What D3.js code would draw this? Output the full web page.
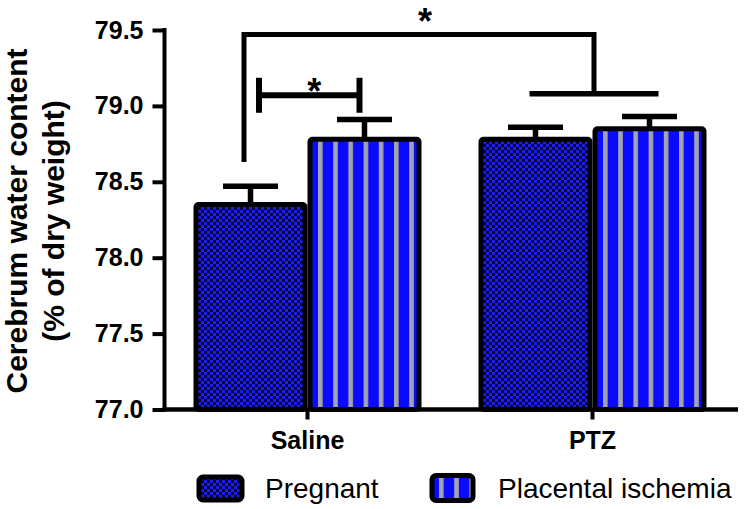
<!DOCTYPE html>
<html>
<head>
<meta charset="utf-8">
<script src="https://cdn.jsdelivr.net/npm/d3@7"></script>
<style>
  html, body { margin: 0; padding: 0; background: #fff; }
  svg { display: block; }
  text { font-family: "Liberation Sans", Arial, Helvetica, sans-serif; }
</style>
</head>
<body>
<svg id="chart" width="746" height="509"></svg>
<script>
// ---- data ----
const categories = ["Saline", "PTZ"];
const seriesNames = ["Pregnant", "Placental ischemia"];
const pregnantMeans = [78.35, 78.78];
const pregnantSEM = [0.12, 0.08];
const ischemiaMeans = [78.78, 78.85];
const ischemiaSEM = [0.13, 0.08];
const yTicks = [77.0, 77.5, 78.0, 78.5, 79.0, 79.5];
const yLabelLines = ["Cerebrum water content", "(% of dry weight)"];
// significance: within-Saline comparison level and between-group level (data units)
const sigWithin = { category: "Saline", level: 79.07, label: "*" };
const sigBetween = { from: "Saline", to: "PTZ", level: 79.47, legBottom: 78.63, lowerLevel: 79.08, label: "*" };

const svg = d3.select("#chart");
const defs = svg.append("defs");

const y = d3.scaleLinear().domain([77.0, 79.5]).range([409.5, 30]);
const x0 = d3.scaleBand().domain(categories).range([165, 735]).paddingInner(0.2).paddingOuter(0.1);
const x1 = d3.scaleBand().domain(seriesNames).range([0, x0.bandwidth()]).padding(0);

const rows = [];
categories.forEach((c, i) => {
  rows.push({ cat: c, s: seriesNames[0], mean: pregnantMeans[i], sem: pregnantSEM[i] });
  rows.push({ cat: c, s: seriesNames[1], mean: ischemiaMeans[i], sem: ischemiaSEM[i] });
});

const SW = 5; // bar stroke width

// checker pattern (Pregnant)
const chk = defs.append("pattern").attr("id", "checker").attr("patternUnits", "userSpaceOnUse")
  .attr("width", 6).attr("height", 6);
chk.append("rect").attr("width", 6).attr("height", 6).attr("fill", "#06063e");
chk.append("rect").attr("width", 3).attr("height", 3).attr("fill", "#1c1cf4");
chk.append("rect").attr("x", 3).attr("y", 3).attr("width", 3).attr("height", 3).attr("fill", "#1c1cf4");

function stripePattern(id, x0pos) {
  const p = defs.append("pattern").attr("id", id).attr("patternUnits", "userSpaceOnUse")
    .attr("x", x0pos).attr("y", 0).attr("width", 15.2).attr("height", 10);
  p.append("rect").attr("width", 15.2).attr("height", 10).attr("fill", "#0a0aff");
  p.append("rect").attr("width", 4.6).attr("height", 10).attr("fill", "#a3a3ad");
}

// bars
rows.forEach((d, i) => {
  const bx = x0(d.cat) + x1(d.s) + SW / 2;
  const bw = x1.bandwidth() - SW;
  let fill = "url(#checker)";
  if (d.s === seriesNames[1]) {
    const id = "stripe" + i;
    stripePattern(id, bx + SW / 2 + 5.5);
    fill = `url(#${id})`;
  }
  // error bar (upper only)
  const cx = bx + bw / 2;
  const capW = 55;
  svg.append("line").attr("x1", cx).attr("x2", cx).attr("y1", y(d.mean)).attr("y2", y(d.mean + d.sem))
    .attr("stroke", "#000").attr("stroke-width", 5.5);
  svg.append("line").attr("x1", cx - capW / 2).attr("x2", cx + capW / 2)
    .attr("y1", y(d.mean + d.sem)).attr("y2", y(d.mean + d.sem))
    .attr("stroke", "#000").attr("stroke-width", 5.5);
  svg.append("rect").attr("x", bx).attr("y", y(d.mean)).attr("width", bw)
    .attr("height", y(77.0) - y(d.mean)).attr("rx", 2.5)
    .attr("fill", fill).attr("stroke", "#000").attr("stroke-width", SW);
});

function barCenter(cat, s) { return x0(cat) + x1(s) + x1.bandwidth() / 2; }

// y axis
const yAxis = d3.axisLeft(y).tickValues(yTicks).tickFormat(d3.format(".1f")).tickSize(12).tickPadding(9);
const gy = svg.append("g").attr("transform", "translate(164.5,0)").call(yAxis);
gy.select(".domain").remove();
gy.selectAll(".tick line").attr("stroke", "#000").attr("stroke-width", 4);
gy.selectAll(".tick text").attr("font-size", 25).attr("font-weight", "bold").attr("fill", "#000")
  .attr("font-family", '"Liberation Sans", Arial, sans-serif');
svg.append("line").attr("x1", 164.5).attr("x2", 164.5).attr("y1", y(79.5) - 2).attr("y2", y(77.0) + 2)
  .attr("stroke", "#000").attr("stroke-width", 4);

// x axis
const xAxis = d3.axisBottom(x0).tickSize(10).tickPadding(12);
const gx = svg.append("g").attr("transform", `translate(0,${y(77.0)})`).call(xAxis);
gx.select(".domain").remove();
gx.selectAll(".tick line").attr("stroke", "#000").attr("stroke-width", 4);
gx.selectAll(".tick text").attr("font-size", 25).attr("font-weight", "bold").attr("fill", "#000")
  .attr("font-family", '"Liberation Sans", Arial, sans-serif');
svg.append("line").attr("x1", 162.5).attr("x2", 738).attr("y1", y(77.0)).attr("y2", y(77.0))
  .attr("stroke", "#000").attr("stroke-width", 4.5);

// y label
const yl = svg.append("text").attr("transform", `translate(0,221) rotate(-90)`)
  .attr("text-anchor", "middle").attr("font-size", 30).attr("font-weight", "bold").attr("fill", "#000");
yl.append("tspan").attr("x", 0).attr("y", 27).text(yLabelLines[0]);
yl.append("tspan").attr("x", 0).attr("y", 64).text(yLabelLines[1]);

// significance: within Saline
{
  const xa = barCenter(sigWithin.category, seriesNames[0]) + 8.5;
  const xb = barCenter(sigWithin.category, seriesNames[1]) - 5;
  const ly = y(sigWithin.level);
  const g = svg.append("g").attr("stroke", "#000").attr("stroke-width", 6);
  g.append("line").attr("x1", xa).attr("x2", xb).attr("y1", ly).attr("y2", ly);
  g.append("line").attr("x1", xa).attr("x2", xa).attr("y1", ly - 17.5).attr("y2", ly + 17.5);
  g.append("line").attr("x1", xb).attr("x2", xb).attr("y1", ly - 17.5).attr("y2", ly + 17.5);
  svg.append("text").attr("x", (xa + xb) / 2 + 5).attr("y", ly + 9).attr("text-anchor", "middle")
    .attr("font-size", 36).attr("font-weight", "bold").text(sigWithin.label);
}
// significance: between groups
{
  const xl = barCenter(sigBetween.from, seriesNames[0]) - 6.5;
  const xr = x0(sigBetween.to) + x0.bandwidth() / 2 + 1.5;
  const top = y(sigBetween.level);
  const low = y(sigBetween.lowerLevel);
  const g = svg.append("g").attr("stroke", "#000").attr("stroke-width", 5).attr("fill", "none");
  g.append("path").attr("d", `M${xl},${y(sigBetween.legBottom)} V${top} H${xr} V${low}`)
    .attr("stroke-linejoin", "miter");
  g.append("line").attr("x1", xr - 64.5).attr("x2", xr + 64.5).attr("y1", low).attr("y2", low).attr("stroke-width", 5.5);
  svg.append("text").attr("x", 425).attr("y", top - 1).attr("text-anchor", "middle")
    .attr("font-size", 36).attr("font-weight", "bold").text(sigBetween.label);
}

// legend
const legendItems = [
  { name: seriesNames[0], sx: 199, sy: 477, sw: 43, sh: 23, tx: 265 },
  { name: seriesNames[1], sx: 432, sy: 475.5, sw: 41, sh: 25, tx: 498 }
];
legendItems.forEach((d, i) => {
  let fill = "url(#checker)";
  if (i === 1) { stripePattern("legStripe", d.sx + 7); fill = "url(#legStripe)"; }
  svg.append("rect").attr("x", d.sx).attr("y", d.sy).attr("width", d.sw).attr("height", d.sh).attr("rx", 4)
    .attr("fill", fill).attr("stroke", "#000").attr("stroke-width", 5);
  svg.append("text").attr("x", d.tx).attr("y", 497.5).attr("font-size", 28).attr("fill", "#000").text(d.name);
});
</script>
</body>
</html>
